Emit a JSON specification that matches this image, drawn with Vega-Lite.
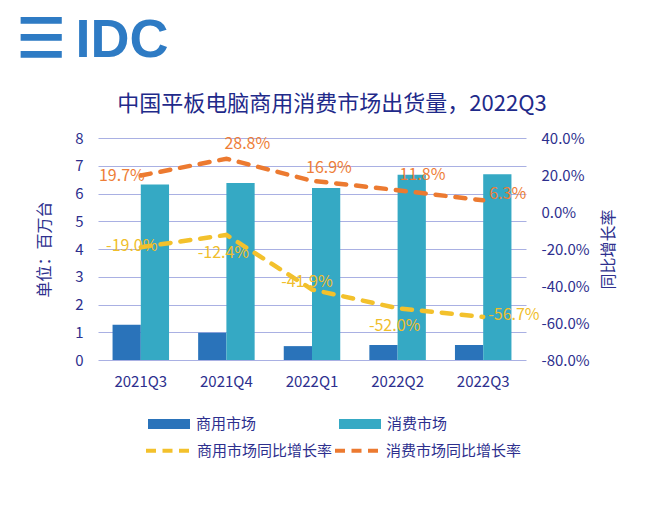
{
  "$schema": "https://vega.github.io/schema/vega-lite/v6.json",
  "background": "white",
  "padding": {"left": 16, "top": 14, "right": 5, "bottom": 5},
  "title": {"text": "☰\u2009IDC", "anchor": "start", "frame": "bounds", "fontSize": 54, "font": "Liberation Sans", "fontWeight": "bold", "color": "#2E7BC4", "dx": -20, "offset": 25},
  "datasets": {
    "shipments": [
      {"quarter": "2021Q3", "market": "商用市场", "value": 1.27},
      {"quarter": "2021Q3", "market": "消费市场", "value": 6.32},
      {"quarter": "2021Q4", "market": "商用市场", "value": 0.98},
      {"quarter": "2021Q4", "market": "消费市场", "value": 6.38},
      {"quarter": "2022Q1", "market": "商用市场", "value": 0.50},
      {"quarter": "2022Q1", "market": "消费市场", "value": 6.20},
      {"quarter": "2022Q2", "market": "商用市场", "value": 0.54},
      {"quarter": "2022Q2", "market": "消费市场", "value": 6.68},
      {"quarter": "2022Q3", "market": "商用市场", "value": 0.54},
      {"quarter": "2022Q3", "market": "消费市场", "value": 6.69}
    ],
    "growth": [
      {"quarter": "2021Q3", "series": "商用市场同比增长率", "rate": -0.190},
      {"quarter": "2021Q4", "series": "商用市场同比增长率", "rate": -0.124},
      {"quarter": "2022Q1", "series": "商用市场同比增长率", "rate": -0.419},
      {"quarter": "2022Q2", "series": "商用市场同比增长率", "rate": -0.520},
      {"quarter": "2022Q3", "series": "商用市场同比增长率", "rate": -0.567},
      {"quarter": "2021Q3", "series": "消费市场同比增长率", "rate": 0.197},
      {"quarter": "2021Q4", "series": "消费市场同比增长率", "rate": 0.288},
      {"quarter": "2022Q1", "series": "消费市场同比增长率", "rate": 0.169},
      {"quarter": "2022Q2", "series": "消费市场同比增长率", "rate": 0.118},
      {"quarter": "2022Q3", "series": "消费市场同比增长率", "rate": 0.063}
    ]
  },
  "config": {
    "locale": {"number": {"decimal": ".", "thousands": ",", "grouping": [3], "currency": ["", ""], "minus": "-"}},
    "view": {"stroke": null},
    "font": "Noto Sans CJK SC",
    "axis": {"labelColor": "#2D2F8E", "titleColor": "#2D2F8E", "labelFontSize": 15, "titleFontSize": 16, "titleFontWeight": "normal", "domain": false, "ticks": false},
    "legend": {"labelColor": "#2D2F8E", "labelFontSize": 15, "padding": 0, "labelOffset": 6, "title": null},
    "text": {"fontSize": 16, "fontWeight": "normal", "baseline": "middle"}
  },
  "vconcat": [
    {
      "width": 428,
      "height": 222,
      "title": {"text": "中国平板电脑商用消费市场出货量，2022Q3", "fontSize": 22, "fontWeight": "normal", "color": "#1F2A8A", "anchor": "middle", "offset": 15, "dx": 20},
      "encoding": {
        "x": {"field": "quarter", "type": "nominal", "sort": ["2021Q3", "2021Q4", "2022Q1", "2022Q2", "2022Q3"], "scale": {"paddingInner": 0.34, "paddingOuter": 0.17}, "axis": {"title": null, "labelAngle": 0, "labelPadding": 14, "grid": false}}
      },
      "layer": [
        {
          "data": {"name": "shipments"},
          "mark": {"type": "bar"},
          "encoding": {
            "xOffset": {"field": "market", "type": "nominal", "sort": ["商用市场", "消费市场"], "scale": {"paddingInner": 0, "paddingOuter": 0}},
            "y": {"field": "value", "type": "quantitative", "scale": {"domain": [0, 8]}, "axis": {"title": "单位：百万台", "values": [0, 1, 2, 3, 4, 5, 6, 7, 8], "grid": true, "gridColor": "#A9B0E3", "gridWidth": 1, "labelPadding": 15, "titlePadding": 22}},
            "color": {"field": "market", "type": "nominal", "scale": {"domain": ["商用市场", "消费市场"], "range": ["#2A73BA", "#35A9C4"]}, "legend": {"orient": "none", "legendX": 50, "legendY": 265, "direction": "horizontal", "columns": 2, "columnPadding": 82, "symbolType": "M-1,-0.24L1,-0.24L1,0.24L-1,0.24Z", "symbolSize": 1764, "symbolStrokeWidth": 0, "symbolOpacity": 1}}
          }
        },
        {
          "data": {"name": "growth"},
          "mark": {"type": "line", "strokeWidth": 4.5, "strokeDash": [10, 10], "strokeCap": "round"},
          "encoding": {
            "y": {"field": "rate", "type": "quantitative", "scale": {"domain": [-0.8, 0.4]}, "axis": {"orient": "right", "title": "同比增长率", "titleAngle": 270, "format": ".1%", "values": [-0.8, -0.6, -0.4, -0.2, 0, 0.2, 0.4], "grid": false, "labelPadding": 15, "titlePadding": 27}},
            "color": {"field": "series", "type": "nominal", "scale": {"domain": ["商用市场同比增长率", "消费市场同比增长率"], "range": ["#F3C12C", "#EC7A30"]}, "legend": {"orient": "none", "legendX": 46, "legendY": 289, "direction": "horizontal", "columns": 2, "columnPadding": -12, "symbolType": "stroke", "symbolSize": 1849, "symbolStrokeWidth": 4, "symbolDash": [10, 6.5]}}
          }
        },
        {
          "data": {"name": "growth"},
          "transform": [{"filter": "datum.quarter == '2021Q3' && datum.rate > 0"}],
          "mark": {"type": "text", "align": "right", "dx": 4, "dy": 0, "color": "#EE7E38"},
          "encoding": {"y": {"field": "rate", "type": "quantitative", "scale": {"domain": [-0.8, 0.4]}, "axis": null}, "text": {"field": "rate", "type": "quantitative", "format": ".1%"}}
        },
        {
          "data": {"name": "growth"},
          "transform": [{"filter": "datum.quarter == '2021Q4' && datum.rate > 0"}],
          "mark": {"type": "text", "align": "left", "dx": -2, "dy": -15, "color": "#EE7E38"},
          "encoding": {"y": {"field": "rate", "type": "quantitative", "scale": {"domain": [-0.8, 0.4]}, "axis": null}, "text": {"field": "rate", "type": "quantitative", "format": ".1%"}}
        },
        {
          "data": {"name": "growth"},
          "transform": [{"filter": "datum.quarter == '2022Q1' && datum.rate > 0"}],
          "mark": {"type": "text", "align": "left", "dx": -6, "dy": -13, "color": "#EE7E38"},
          "encoding": {"y": {"field": "rate", "type": "quantitative", "scale": {"domain": [-0.8, 0.4]}, "axis": null}, "text": {"field": "rate", "type": "quantitative", "format": ".1%"}}
        },
        {
          "data": {"name": "growth"},
          "transform": [{"filter": "datum.quarter == '2022Q2' && datum.rate > 0"}],
          "mark": {"type": "text", "align": "left", "dx": 2, "dy": -15, "color": "#EE7E38"},
          "encoding": {"y": {"field": "rate", "type": "quantitative", "scale": {"domain": [-0.8, 0.4]}, "axis": null}, "text": {"field": "rate", "type": "quantitative", "format": ".1%"}}
        },
        {
          "data": {"name": "growth"},
          "transform": [{"filter": "datum.quarter == '2022Q3' && datum.rate > 0"}],
          "mark": {"type": "text", "align": "left", "dx": 6, "dy": -6, "color": "#EE7E38"},
          "encoding": {"y": {"field": "rate", "type": "quantitative", "scale": {"domain": [-0.8, 0.4]}, "axis": null}, "text": {"field": "rate", "type": "quantitative", "format": ".1%"}}
        },
        {
          "data": {"name": "growth"},
          "transform": [{"filter": "datum.quarter == '2021Q3' && datum.rate < 0"}],
          "mark": {"type": "text", "align": "center", "dx": -9, "dy": -1, "color": "#F0BE2C"},
          "encoding": {"y": {"field": "rate", "type": "quantitative", "scale": {"domain": [-0.8, 0.4]}, "axis": null}, "text": {"field": "rate", "type": "quantitative", "format": ".1%"}}
        },
        {
          "data": {"name": "growth"},
          "transform": [{"filter": "datum.quarter == '2021Q4' && datum.rate < 0"}],
          "mark": {"type": "text", "align": "center", "dx": -3, "dy": 18, "color": "#F0BE2C"},
          "encoding": {"y": {"field": "rate", "type": "quantitative", "scale": {"domain": [-0.8, 0.4]}, "axis": null}, "text": {"field": "rate", "type": "quantitative", "format": ".1%"}}
        },
        {
          "data": {"name": "growth"},
          "transform": [{"filter": "datum.quarter == '2022Q1' && datum.rate < 0"}],
          "mark": {"type": "text", "align": "center", "dx": -5, "dy": -8, "color": "#F0BE2C"},
          "encoding": {"y": {"field": "rate", "type": "quantitative", "scale": {"domain": [-0.8, 0.4]}, "axis": null}, "text": {"field": "rate", "type": "quantitative", "format": ".1%"}}
        },
        {
          "data": {"name": "growth"},
          "transform": [{"filter": "datum.quarter == '2022Q2' && datum.rate < 0"}],
          "mark": {"type": "text", "align": "center", "dx": -3, "dy": 18, "color": "#F0BE2C"},
          "encoding": {"y": {"field": "rate", "type": "quantitative", "scale": {"domain": [-0.8, 0.4]}, "axis": null}, "text": {"field": "rate", "type": "quantitative", "format": ".1%"}}
        },
        {
          "data": {"name": "growth"},
          "transform": [{"filter": "datum.quarter == '2022Q3' && datum.rate < 0"}],
          "mark": {"type": "text", "align": "left", "dx": 5, "dy": -2, "color": "#F0BE2C"},
          "encoding": {"y": {"field": "rate", "type": "quantitative", "scale": {"domain": [-0.8, 0.4]}, "axis": null}, "text": {"field": "rate", "type": "quantitative", "format": ".1%"}}
        }
      ],
      "resolve": {"scale": {"y": "independent", "color": "independent"}}
    }
  ]
}
